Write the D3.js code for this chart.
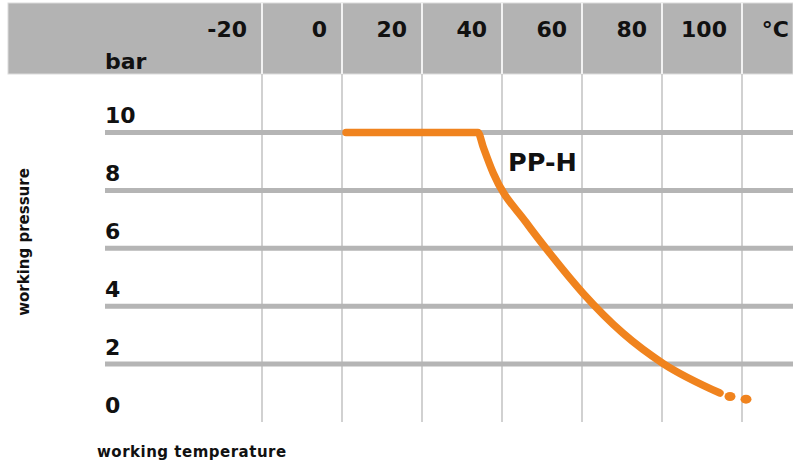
<!DOCTYPE html>
<html>
<head>
<meta charset="utf-8">
<script src="https://d3js.org/d3.v7.min.js"></script>
<style>
  body { margin: 0; background: #ffffff; }
  svg { display: block; font-family: "DejaVu Sans", sans-serif; font-weight: 700; }
</style>
</head>
<body>
<div id="chartHere"></div>
<script>

// temperature ticks (gridlines) and labels
var tempTicks = [-20, 0, 20, 40, 60, 80, 100];
var tempLabels = ["-20", "0", "20", "40", "60", "80", "100"];
var tempUnit = "°C";

// pressure ticks
var pressTicks = [0, 2, 4, 6, 8, 10];
var pressLabels = ["0", "2", "4", "6", "8", "10"];
var pressUnit = "bar";

// PP-H curve
var curveTemp  = [1, 34, 35.3, 37.8, 46, 52, 60.3, 70.3, 80.3, 94.5];
var curvePress = [10, 10, 9.5, 8.6, 6.9, 5.82, 4.44, 3.06, 2.02, 1.0];
// dotted tail
var dotTemp  = [97, 101];
var dotPress = [0.88, 0.79];

var seriesName = "PP-H";
var xTitle = "working temperature";
var yTitle = "working pressure";

var dims = {"width": 793, "height": 462};

var svg = d3.select("#chartHere").append("svg")
    .attr("width", dims.width)
    .attr("height", dims.height);

var x = d3.scaleLinear().domain([0, 100]).range([342, 742]);
var y = d3.scaleLinear().domain([0, 10]).range([422, 132.5]);

var orange = "#f0831e";

// header band
svg.append("rect")
    .attr("x", 8).attr("y", 3)
    .attr("width", dims.width - 8).attr("height", 71)
    .attr("fill", "#b3b3b3")
    .attr("stroke", "#dcdcdc")
    .attr("stroke-width", 1);

// vertical gridlines: white in the header, gray below
svg.selectAll("line.vhead")
    .data(tempTicks).enter().append("line")
    .attr("class", "vhead")
    .attr("x1", function(d) { return x(d); })
    .attr("x2", function(d) { return x(d); })
    .attr("y1", 3).attr("y2", 74)
    .attr("stroke", "#f2f2f2")
    .attr("stroke-width", 2);

svg.selectAll("line.vgrid")
    .data(tempTicks).enter().append("line")
    .attr("class", "vgrid")
    .attr("x1", function(d) { return x(d); })
    .attr("x2", function(d) { return x(d); })
    .attr("y1", 74).attr("y2", y(0))
    .attr("stroke", "#c6c6c6")
    .attr("stroke-width", 1.6);

// horizontal gridlines
svg.selectAll("line.hgrid")
    .data(pressTicks.filter(function(d) { return d > 0; })).enter().append("line")
    .attr("class", "hgrid")
    .attr("x1", 105).attr("x2", dims.width)
    .attr("y1", function(d) { return y(d); })
    .attr("y2", function(d) { return y(d); })
    .attr("stroke", "#b5b5b5")
    .attr("stroke-width", 5);

// header labels
svg.selectAll("text.tlab")
    .data(tempTicks).enter().append("text")
    .attr("class", "tlab")
    .attr("x", function(d) { return x(d) - 15; })
    .attr("y", 37)
    .attr("text-anchor", "end")
    .attr("font-size", 22)
    .attr("fill", "#111")
    .text(function(d, i) { return tempLabels[i]; });

svg.append("text")
    .attr("x", 789).attr("y", 37)
    .attr("text-anchor", "end")
    .attr("font-size", 22)
    .attr("fill", "#111")
    .text(tempUnit);

svg.append("text")
    .attr("x", 105).attr("y", 69)
    .attr("font-size", 22)
    .attr("fill", "#111")
    .text(pressUnit);

// pressure labels
svg.selectAll("text.plab")
    .data(pressTicks).enter().append("text")
    .attr("class", "plab")
    .attr("x", 105)
    .attr("y", function(d) { return y(d) - 9.5; })
    .attr("font-size", 22)
    .attr("fill", "#111")
    .text(function(d, i) { return pressLabels[i]; });

// curve
var pts = curveTemp.map(function(t, i) { return [t, curvePress[i]]; });
var line = d3.line()
    .x(function(d) { return x(d[0]); })
    .y(function(d) { return y(d[1]); })
    .curve(d3.curveMonotoneX);

svg.append("path")
    .datum(pts)
    .attr("d", line)
    .attr("fill", "none")
    .attr("stroke", orange)
    .attr("stroke-width", 7.5)
    .attr("stroke-linecap", "round")
    .attr("stroke-linejoin", "round");

svg.selectAll("ellipse.tail")
    .data(dotTemp).enter().append("ellipse")
    .attr("class", "tail")
    .attr("cx", function(d) { return x(d); })
    .attr("cy", function(d, i) { return y(dotPress[i]); })
    .attr("rx", 5.5).attr("ry", 4.5)
    .attr("fill", orange);

svg.append("text")
    .attr("x", 508).attr("y", 171)
    .attr("font-size", 25.5)
    .attr("fill", "#111")
    .text(seriesName);

// axis titles
svg.append("text")
    .attr("x", 97).attr("y", 457)
    .attr("font-size", 15)
    .attr("letter-spacing", 0.5)
    .attr("fill", "#111")
    .text(xTitle);

svg.append("text")
    .attr("transform", "translate(29,242) rotate(-90)")
    .attr("text-anchor", "middle")
    .attr("font-size", 15)
    .attr("fill", "#111")
    .text(yTitle);

</script>
</body>
</html>
